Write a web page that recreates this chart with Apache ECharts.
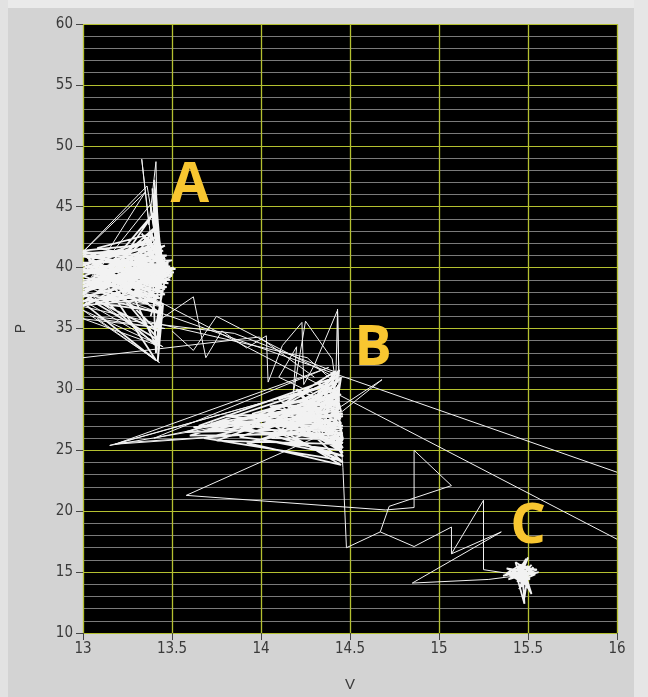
<!DOCTYPE html>
<html><head><meta charset="utf-8">
<script src="https://cdn.jsdelivr.net/npm/echarts@6/dist/echarts.min.js"></script>
<style>html,body{margin:0;padding:0;background:#d3d3d3;}#c{width:648px;height:697px;}</style>
</head><body><div id="c"></div>
<script>
// ---- axis ticks ----
const xTicks = [13, 13.5, 14, 14.5, 15, 15.5, 16];
const yTicks = [10, 15, 20, 25, 30, 35, 40, 45, 50, 55, 60];

// ---- cluster A (dense fan) ----
const fanA = [
[13.00,39.0],[13.50,39.8],[13.00,38.2],[13.48,40.3],[13.02,40.1],[13.47,39.2],[13.00,37.6],[13.51,39.6],
[13.01,41.0],[13.46,40.8],[13.04,38.6],[13.49,39.0],[13.00,39.6],[13.45,41.4],[13.00,37.2],[13.47,38.4],
[13.03,40.6],[13.52,39.9],[13.00,38.5],[13.44,41.2],[13.06,39.3],[13.48,38.7],[13.00,41.4],[13.43,42.0],
[13.02,37.3],[13.46,37.8],[13.00,40.4],[13.50,40.6],[13.08,38.0],[13.45,37.0],[13.00,39.3],[13.44,41.6],
[13.04,41.2],[13.47,41.0],[13.00,37.9],[13.44,36.2],[13.10,39.8],[13.49,40.1],[13.00,40.9],[13.45,40.2],
[13.05,38.9],[13.46,39.4],[13.00,36.9],[13.43,37.5],[13.02,39.9],[13.50,39.3],[13.12,40.5],[13.44,39.6],
[13.00,38.8],[13.45,38.1],[13.07,37.1],[13.43,34.0],[13.00,41.3],[13.47,40.4],[13.03,39.5],[13.45,40.8],
[13.00,38.0],[13.44,39.7],[13.09,40.9],[13.45,38.3],[13.00,39.8],[13.48,39.5],[13.01,37.0],[13.41,32.4],
[13.06,40.2],[13.46,41.8],[13.00,38.4],[13.51,40.0],[13.15,39.2],[13.49,39.7],[13.20,40.6],[13.44,40.9],
[13.18,38.4],[13.47,38.9],[13.25,41.2],[13.43,41.9],[13.22,37.9],[13.48,40.2],[13.28,39.4],[13.46,40.5]
];
const fanA2 = [
[13.42,40.0],[13.39,46.5],[13.43,41.0],[13.40,47.2],[13.44,40.5],[13.38,45.0],[13.42,42.0],[13.41,46.0],
[13.44,39.5],[13.39,44.0],[13.43,41.5],[13.40,45.5],[13.45,40.0],[13.38,43.0],[13.41,33.0],[13.44,38.0],
[13.42,32.3],[13.45,37.0],[13.40,34.5],[13.46,39.0],[13.30,39.5],[13.48,40.5],[13.25,38.6],[13.50,39.4],
[13.32,41.6],[13.47,39.9],[13.28,37.9],[13.46,40.7],[13.35,42.5],[13.49,39.2],[13.30,38.2],[13.44,41.6],
[13.36,37.2],[13.48,40.0],[13.33,42.8],[13.45,39.5],[13.38,36.0],[13.47,40.3],[13.20,39.0],[13.42,43.5],
[13.15,40.0],[13.43,37.5],[13.12,38.6],[13.40,44.5],[13.10,39.4],[13.44,36.8],[13.05,40.7],[13.41,42.5],
[13.00,39.9],[13.39,38.0],[13.00,40.2],[13.38,41.8],[13.00,38.7],[13.37,37.0],[13.00,41.1],[13.36,41.5],
[13.00,37.8],[13.42,34.8],[13.14,38.8],[13.44,40.3],[13.10,37.6],[13.41,33.6],[13.17,41.3],[13.44,40.0],
[13.22,39.8],[13.46,38.2],[13.26,40.4],[13.43,38.8],[13.18,37.2],[13.45,40.6],[13.08,41.6],[13.39,42.8],
[13.02,38.1],[13.40,40.3],[13.12,37.0],[13.42,36.4]
];
const spikeA = [
[13.47,40.0],[13.38,42.5],[13.33,48.9],[13.37,43.5],[13.41,48.7],[13.42,41.5],[13.36,46.7],[13.00,41.3],
[13.35,46.2],[13.02,38.6],[13.38,45.2],[13.44,38.5],[13.40,46.4],[13.43,39.0]
];
const lowA = [
[13.44,38.0],[13.00,37.3],[13.45,33.5],[13.00,36.5],[13.43,32.2],[13.08,35.8],[13.46,35.0],[13.00,35.8],
[13.42,33.6],[13.04,37.8],[13.44,36.8]
];

// ---- long straight lines ----
const lineOne = [[13.00,38.5],[16.00,23.2]];
const lineTwo = [[13.10,39.7],[16.00,17.7]];

// ---- between A and B ----
const pathAB = [
[13.44,35.8],[13.62,37.6],[13.69,32.6],[13.78,34.8],[13.92,33.4],[14.03,34.4],[14.04,30.6],[14.12,33.6],
[14.23,35.5],[14.24,30.4],[14.30,32.0],[14.43,36.5],[14.44,29.5]
];
const crossAB1 = [[13.00,32.6],[13.99,34.3],[14.30,31.0]];
const crossAB2 = [[13.00,36.8],[14.26,32.6],[14.44,30.2]];
const crossAB3 = [[13.05,36.0],[13.85,34.6],[14.44,31.3]];
const crossAB4 = [[13.50,34.8],[13.62,33.2],[13.75,36.0],[14.44,30.8]];

// ---- cluster B ----
const fanB = [
[14.45,27.6],[13.70,26.6],[14.44,28.8],[13.85,27.4],[14.46,26.4],[13.60,26.2],[14.43,30.0],[13.95,28.0],
[14.45,25.5],[13.75,25.8],[14.44,29.4],[14.05,28.6],[14.46,27.0],[13.65,27.0],[14.42,31.0],[13.90,26.9],
[14.45,24.6],[14.00,25.9],[14.44,28.2],[13.80,27.8],[14.46,26.8],[13.58,26.5],[14.43,30.6],[14.10,29.2],
[14.45,25.0],[13.88,26.1],[14.44,29.0],[13.72,27.2],[14.46,27.8],[14.15,26.2],[14.42,31.5],[13.96,27.3],
[14.45,24.2],[13.68,26.0],[14.44,28.5],[14.20,30.0],[14.46,26.0],[13.82,26.7],[14.43,29.8],[14.02,27.5],
[14.45,23.8],[13.92,25.6],[14.44,27.3],[13.62,26.9],[14.46,28.0],[14.08,27.0],[14.45,29.6],[14.25,28.2],
[14.46,25.8],[14.22,26.6],[14.44,30.4],[14.30,27.6],[14.45,24.9],[14.12,27.9],[14.44,27.0]
];
const fanB2 = [
[14.45,27.9],[14.05,27.2],[14.44,29.7],[14.15,28.0],[14.46,26.2],[14.10,26.5],[14.44,30.8],[14.25,29.3],
[14.45,25.3],[14.20,27.4],[14.43,31.2],[14.30,28.7],[14.46,24.5],[13.98,26.6],[14.44,28.4],[14.35,29.9],
[14.45,26.6],[14.28,26.9],[14.44,30.0],[14.38,27.2],[14.46,25.2],[14.00,27.8],[14.44,29.1],[14.32,30.6],
[14.45,27.2],[14.18,26.0],[14.46,24.0],[14.12,28.6],[14.44,28.9],[14.40,26.3],[14.45,31.0],[14.26,27.8],
[14.46,25.6],[13.94,27.0],[14.44,30.2],[14.36,28.1],[14.45,26.9],[14.22,29.6],[14.46,24.8],[14.34,26.2],
[14.44,31.6],[14.16,27.0],[14.45,28.2],[14.40,30.9],[14.46,25.9],[14.06,26.0],[14.44,29.3]
];
const longB = [
[14.44,28.6],[13.15,25.4],[14.40,30.5],[13.18,25.5],[14.45,26.8],[13.20,25.6],[14.38,31.8],[13.40,26.0],
[14.44,29.2]
];
const spikeB = [
[14.44,29.0],[14.43,36.6],[14.42,30.5],[14.40,32.5],[14.25,35.6],[14.18,29.5],[14.20,33.5],[14.10,31.0],
[14.45,28.6],[14.68,30.8],[14.44,28.0]
];

// ---- between B and C ----
const pathBC1 = [
[14.44,27.5],[14.46,23.6],[14.48,17.0],[14.67,18.3],[14.86,17.1],[15.07,18.7],[15.07,16.5],[15.25,20.9],
[15.25,15.2],[15.43,14.8]
];
const pathBC2 = [
[14.30,26.0],[13.58,21.3],[14.70,20.1],[14.86,20.3],[14.86,25.0],[15.07,22.1],[14.72,20.4],[14.67,18.3]
];
const pathC = [[15.07,16.5],[15.35,18.3],[14.85,14.1],[15.28,14.4],[15.44,14.7]];

// ---- cluster C ----
const blobC = [
[15.45,14.9],[15.50,16.2],[15.46,14.7],[15.56,15.0],[15.44,14.5],[15.48,12.4],[15.47,15.1],[15.38,15.3],
[15.49,14.6],[15.52,13.2],[15.45,15.0],[15.36,14.7],[15.50,15.5],[15.47,13.8],[15.43,15.8],[15.54,14.8],
[15.46,14.3],[15.49,16.1],[15.44,14.9],[15.51,13.5],[15.47,15.2],[15.39,14.4],[15.50,14.9],[15.48,12.9],
[15.46,15.4],[15.55,15.2],[15.45,14.6],[15.40,15.0],[15.49,14.2],[15.47,14.9],[15.52,15.6],[15.44,14.2],
[15.48,15.8],[15.41,14.8],[15.51,14.4],[15.46,15.6],[15.38,14.9],[15.50,13.9],[15.47,14.5],[15.53,15.4],
[15.45,13.6],[15.49,15.1],[15.42,14.6],[15.48,14.0],[15.46,15.0]
];

// ---- cluster labels ----
const clusterNames = ['A', 'B', 'C'];
const clusterAt = [[13.60,46.7],[14.63,33.3],[15.50,18.7]];

const thinPaths = [spikeA, lowA, lineOne, lineTwo, pathAB, crossAB1, crossAB2, crossAB3, crossAB4,
                   longB, spikeB, pathBC1, pathBC2, pathC];
const densePaths = [fanA, fanA2, fanB, fanB2, blobC];

const chart = echarts.init(document.getElementById('c'), null, {renderer:'canvas'});
const tickFont = {color:'#3a3a3a', fontSize:15, fontFamily:'"Liberation Sans Narrow","Arial Narrow","DejaVu Sans Condensed",sans-serif'};
function lineSeries(p, w){
  return {type:'line', data:p, showSymbol:false, symbol:'none', silent:true,
    lineStyle:{color:'#f2f2f2', width:w}, clip:true, animation:false, z:3};
}
const series = thinPaths.map(p => lineSeries(p, 1)).concat(densePaths.map(p => lineSeries(p, 1.8)));
series.push({
  type:'scatter', symbolSize:0, silent:true, animation:false, z:5,
  itemStyle:{opacity:1},
  data: clusterNames.map((n,i)=>({name:n, value:clusterAt[i]})),
  label:{show:true, position:'inside', formatter:p=>p.name, color:'#f8c630', opacity:1,
         fontSize:56, fontWeight:'bold', fontFamily:'"Open Sans",sans-serif'}
});
chart.setOption({
  backgroundColor:'#d3d3d3',
  animation:false,
  grid:{left:83, right:31, top:24, bottom:60, show:true, backgroundColor:'#000', borderWidth:0},
  xAxis:{
    type:'value', min:xTicks[0], max:xTicks[xTicks.length-1], interval:0.5,
    name:'V', nameLocation:'middle', nameGap:44,
    nameTextStyle:{color:'#3a3a3a', fontSize:15, fontFamily:'sans-serif'},
    axisLine:{show:false},
    axisTick:{show:true, length:7, lineStyle:{color:'#444', width:1}},
    axisLabel:Object.assign({margin:9, formatter:v=>String(v)}, tickFont),
    splitLine:{show:true, lineStyle:{color:'#b4c030', width:1.3}}
  },
  yAxis:{
    type:'value', min:yTicks[0], max:yTicks[yTicks.length-1], interval:5,
    name:'P', nameLocation:'middle', nameGap:55, nameRotate:90,
    nameTextStyle:{color:'#3a3a3a', fontSize:14, fontFamily:'sans-serif'},
    axisLine:{show:false},
    axisTick:{show:true, length:7, lineStyle:{color:'#444', width:1}},
    axisLabel:Object.assign({margin:10}, tickFont),
    splitLine:{show:true, lineStyle:{color:'#b4c030', width:1}},
    minorTick:{show:false, splitNumber:5},
    minorSplitLine:{show:true, lineStyle:{color:'#7a7a7a', width:1}}
  },
  graphic:[
    {type:'rect', shape:{x:0,y:0,width:648,height:8}, style:{fill:'#eaeaea'}, silent:true, z:-10},
    {type:'rect', shape:{x:634,y:0,width:14,height:697}, style:{fill:'#e6e6e6'}, silent:true, z:-10},
    {type:'rect', shape:{x:0,y:0,width:8,height:697}, style:{fill:'#e2e2e2'}, silent:true, z:-10}
  ],
  series: series
});
</script></body></html>
